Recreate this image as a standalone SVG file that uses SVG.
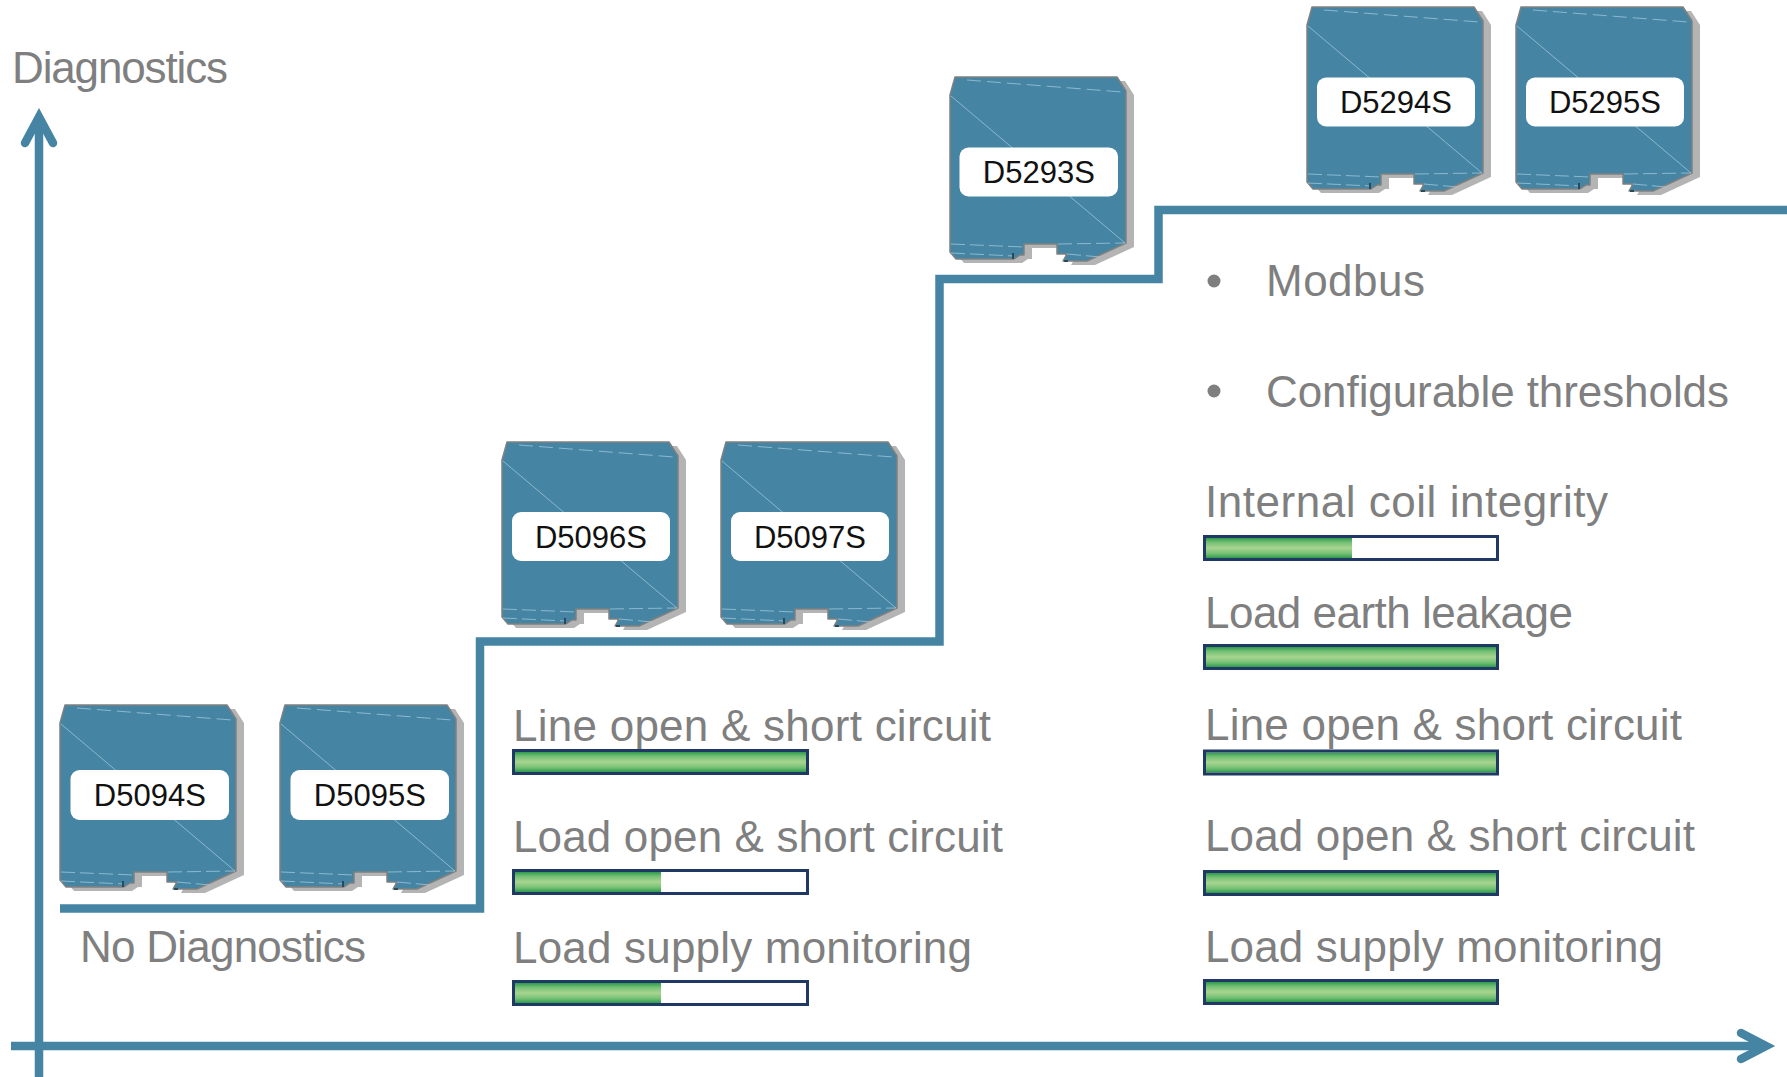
<svg xmlns="http://www.w3.org/2000/svg" width="1787" height="1077" viewBox="0 0 1787 1077">
  <defs>
    <style>
      .axis { fill: none; stroke: #4585a3; stroke-width: 8.5; }
      .head { fill: none; stroke: #4585a3; stroke-width: 8.5; stroke-linecap: round; stroke-linejoin: miter; }
      .step { fill: none; stroke: #4585a3; stroke-width: 8.5; stroke-linejoin: miter; }
      .txt { font-family: "Liberation Sans", Arial, sans-serif; font-size: 44px; fill: #7f7f7f; }
      .lbl { font-family: "Liberation Sans", Arial, sans-serif; font-size: 31px; fill: #111111; text-anchor: middle; }
      .tag { fill: #ffffff; }
      .barbg { fill: #ffffff; }
      .barfill { fill: url(#green); }
      .barframe { fill: none; stroke: #203864; stroke-width: 3; }
      .body { fill: #4585a3; stroke: #808080; stroke-width: 1.5; stroke-linejoin: round; }
      .shade { fill: #b4b4b4; }
      .sheen { fill: none; stroke: #a9cde0; stroke-width: 1; opacity: 0.7; }
      .bullet { fill: #7f7f7f; }
    </style>
    <linearGradient id="green" x1="0" y1="0" x2="0" y2="1">
      <stop offset="0" stop-color="#2f9a4e"/>
      <stop offset="0.22" stop-color="#74c074"/>
      <stop offset="0.5" stop-color="#a9d591"/>
      <stop offset="0.78" stop-color="#74c074"/>
      <stop offset="1" stop-color="#2f9a4e"/>
    </linearGradient>
    <!-- DIN-rail module housing, local origin at top-left of the body -->
    <g id="module">
      <path class="shade" transform="translate(8,4)" d="M5,0 H167 L176,14 V166 L137,184 H113 L117,177 H107 V167 H74 V178 H70 L64,182 H6 L0,175 V18 Z"/>
      <path class="body" d="M5,0 H167 L176,14 V166 L137,184 H113 L117,177 H107 V167 H74 V178 H70 L64,182 H6 L0,175 V18 Z"/>
      <path class="sheen" stroke-dasharray="14 6" d="M17,3 L172,15"/>
      <path class="sheen" d="M1,19 L175,166"/>
      <path class="sheen" stroke-dasharray="14 5" d="M1,167 L74,170 M1,176 L64,179 M108,167 L175,166 M117,177 L150,180"/>
      <path fill="#2a4a5a" d="M62,176 h2 v6 h-2 z M114,183 h4 v2 h-4 z"/>
    </g>
  </defs>

  <!-- axes -->
  <g id="axes">
    <path class="axis" d="M39,1077 V118"/>
    <polyline class="head" points="25,143 39,117 53,143"/>
    <path class="axis" d="M11,1046 H1765"/>
    <polyline class="head" points="1741,1033 1766,1046 1741,1059"/>
    <text class="txt" x="12" y="83" textLength="216">Diagnostics</text>
  </g>

  <!-- staircase of diagnostic levels -->
  <g id="connectors">
    <path class="step" d="M60,908.5 H480 V641.5 H939.5 V279 H1158.5 V210 H1787"/>
  </g>

  <!-- level 0 modules -->
  <g id="node-d5094s">
    <use href="#module" x="60" y="705"/>
    <rect class="tag" x="70.5" y="770" width="158.5" height="50" rx="9"/>
    <text class="lbl" x="149.8" y="806">D5094S</text>
  </g>
  <g id="node-d5095s">
    <use href="#module" x="280" y="705"/>
    <rect class="tag" x="290.5" y="770" width="158.5" height="50" rx="9"/>
    <text class="lbl" x="369.8" y="806">D5095S</text>
  </g>
  <g id="label-none">
    <text class="txt" x="80" y="962" textLength="286">No Diagnostics</text>
  </g>

  <!-- level 1 modules -->
  <g id="node-d5096s">
    <use href="#module" x="502" y="442"/>
    <rect class="tag" x="512" y="512" width="158" height="49" rx="9"/>
    <text class="lbl" x="591" y="547.5">D5096S</text>
  </g>
  <g id="node-d5097s">
    <use href="#module" x="721" y="442"/>
    <rect class="tag" x="731" y="512" width="158" height="49" rx="9"/>
    <text class="lbl" x="810" y="547.5">D5097S</text>
  </g>

  <!-- level 1 feature list -->
  <g id="features-level1">
    <text class="txt" x="513" y="741" textLength="478">Line open &amp; short circuit</text>
    <rect class="barbg" x="513.5" y="750.5" width="294" height="23"/>
    <rect class="barfill" x="515" y="752" width="291" height="20"/>
    <rect class="barframe" x="513.5" y="750.5" width="294" height="23"/>

    <text class="txt" x="513" y="852" textLength="490">Load open &amp; short circuit</text>
    <rect class="barbg" x="513.5" y="870.5" width="294" height="23"/>
    <rect class="barfill" x="515" y="872" width="146" height="20"/>
    <rect class="barframe" x="513.5" y="870.5" width="294" height="23"/>

    <text class="txt" x="513" y="963" textLength="459">Load supply monitoring</text>
    <rect class="barbg" x="513.5" y="981.5" width="294" height="23"/>
    <rect class="barfill" x="515" y="983" width="146" height="20"/>
    <rect class="barframe" x="513.5" y="981.5" width="294" height="23"/>
  </g>

  <!-- level 2 module -->
  <g id="node-d5293s">
    <use href="#module" x="950" y="77"/>
    <rect class="tag" x="959.5" y="147.5" width="158.5" height="49" rx="9"/>
    <text class="lbl" x="1038.8" y="183">D5293S</text>
  </g>

  <!-- level 3 modules -->
  <g id="node-d5294s">
    <use href="#module" x="1307" y="7"/>
    <rect class="tag" x="1317" y="77.5" width="158" height="49" rx="9"/>
    <text class="lbl" x="1396" y="113">D5294S</text>
  </g>
  <g id="node-d5295s">
    <use href="#module" x="1516" y="7"/>
    <rect class="tag" x="1526" y="77.5" width="158" height="49" rx="9"/>
    <text class="lbl" x="1605" y="113">D5295S</text>
  </g>

  <!-- level 3 feature list -->
  <g id="features-level3">
    <circle class="bullet" cx="1214" cy="281" r="6.5"/>
    <text class="txt" x="1266" y="296" textLength="159">Modbus</text>
    <circle class="bullet" cx="1214" cy="391" r="6.5"/>
    <text class="txt" x="1266" y="407" textLength="463">Configurable thresholds</text>

    <text class="txt" x="1205" y="517" textLength="403">Internal coil integrity</text>
    <rect class="barbg" x="1204.5" y="536.5" width="293" height="23"/>
    <rect class="barfill" x="1206" y="538" width="146" height="20"/>
    <rect class="barframe" x="1204.5" y="536.5" width="293" height="23"/>

    <text class="txt" x="1205" y="628" textLength="368">Load earth leakage</text>
    <rect class="barbg" x="1204.5" y="645.5" width="293" height="23"/>
    <rect class="barfill" x="1206" y="647" width="290" height="20"/>
    <rect class="barframe" x="1204.5" y="645.5" width="293" height="23"/>

    <text class="txt" x="1205" y="740" textLength="477">Line open &amp; short circuit</text>
    <rect class="barbg" x="1204.5" y="751" width="293" height="23"/>
    <rect class="barfill" x="1206" y="752.5" width="290" height="20"/>
    <rect class="barframe" x="1204.5" y="751" width="293" height="23"/>

    <text class="txt" x="1205" y="851" textLength="490">Load open &amp; short circuit</text>
    <rect class="barbg" x="1204.5" y="871.5" width="293" height="23"/>
    <rect class="barfill" x="1206" y="873" width="290" height="20"/>
    <rect class="barframe" x="1204.5" y="871.5" width="293" height="23"/>

    <text class="txt" x="1205" y="962" textLength="458">Load supply monitoring</text>
    <rect class="barbg" x="1204.5" y="980.5" width="293" height="23"/>
    <rect class="barfill" x="1206" y="982" width="290" height="20"/>
    <rect class="barframe" x="1204.5" y="980.5" width="293" height="23"/>
  </g>
</svg>
